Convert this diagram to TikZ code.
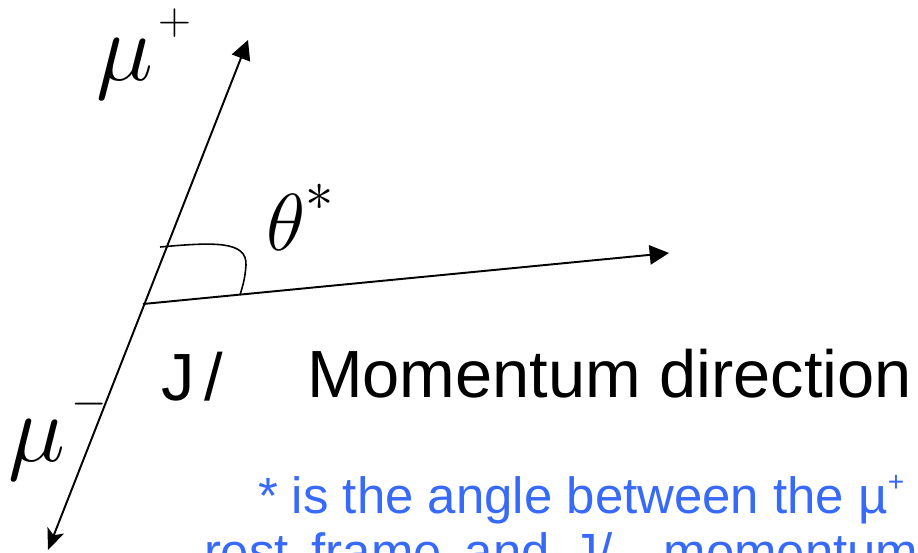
\documentclass[tikz,border=0pt]{standalone}
\usepackage{fix-cm}
\usepackage{fontspec}
\setmainfont{Liberation Sans}
\usepackage{tikz}
\usetikzlibrary{arrows.meta}
\usepackage{xcolor}
\definecolor{notec}{RGB}{55,105,250}
\tikzset{
  track/.style={line width=1.1pt,black},
  tipT/.style={-{Triangle[length=11pt,width=11pt]}},
  tipS/.style={{Stealth[length=12pt,width=10pt,inset=3pt]}-{Triangle[length=11pt,width=11pt]}},
  angmark/.style={line width=0.9pt,black},
  lbl/.style={inner sep=0pt,outer sep=0pt,anchor=base west},
  mu/.style={lbl,font=\fontsize{55}{55}\selectfont},
  th/.style={lbl,font=\fontsize{46}{46}\selectfont},
  big/.style={lbl,font=\fontsize{38}{40}\selectfont},
  note/.style={lbl,text=notec,font=\fontsize{29}{32}\selectfont},
}
\newcommand{\chg}[1]{\hspace{3pt}\raisebox{26pt}{\fontsize{26}{26}\selectfont$#1$}}

\begin{document}
\begin{tikzpicture}[x=0.02cm,y=-0.02cm]
  \useasboundingbox (0,0) rectangle (918,552);
  \clip (0,0) rectangle (918,552);
  % ---- the decay frame ----
  \coordinate (O) at (143,304);
  \coordinate (mup) at (248,40);
  \coordinate (mum) at (48,550);
  \coordinate (jdir) at (669,253);
  \draw[track,tipS] (mum) -- (mup);
  \draw[track,tipT] (O) -- (jdir);
  % the angle between them
  \coordinate (arcA) at (160,247);
  \coordinate (arcB) at (240,295);
  \draw[angmark] (arcA) .. controls (215,242) and (247,241) .. (246,265)
    .. controls (245,280) and (242,288) .. (arcB);
  % ---- labels ----
  \node[mu] (lmup) at (96,80) {$\mu$\chg{+}};
  \node[mu] (lmum) at (9,461) {$\mu$\chg{-}};
  \node[th] (lth) at (266,250) {$\theta^{\raisebox{6pt}{$\scriptstyle *$}}$};
  \node[big] (ljp) at (161,400) {J\kern6pt/};
  \node[big] (ldir) at (307,397) {Momentum direction};
  % ---- caption, cut by the frame ----
  \node[note] (n1) at (258,513) {* is the angle between the \textmu{\fontsize{16}{16}\selectfont\raisebox{12pt}{+}}};
  \node[note] (n2) at (204,569) {\spaceskip=0.45em rest frame and J/\hspace{16pt} momentum direction};
\end{tikzpicture}
\end{document}
